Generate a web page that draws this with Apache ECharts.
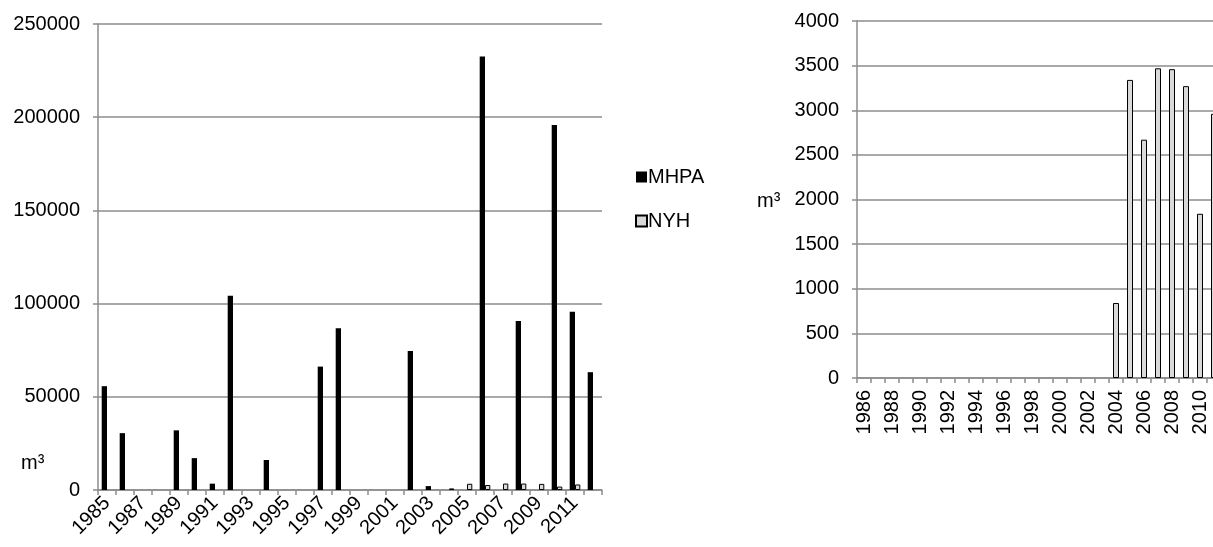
<!DOCTYPE html>
<html>
<head>
<meta charset="utf-8">
<script src="https://cdn.jsdelivr.net/npm/echarts@6/dist/echarts.min.js"></script>
<style>
html,body{margin:0;padding:0;background:#fff;}
#c{width:1213px;height:547px;}
</style>
</head>
<body>
<div id="c"></div>
<script>
const years = ['1985','1986','1987','1988','1989','1990','1991','1992','1993','1994','1995','1996','1997','1998','1999','2000','2001','2002','2003','2004','2005','2006','2007','2008','2009','2010','2011','2012'];
const mhpa = [55700,30500,null,null,32000,17100,3400,104200,null,16100,null,null,66200,86800,null,null,null,74600,2100,null,null,232600,null,90700,null,195800,95600,63200];
const nyh = [null,null,null,null,null,null,null,null,null,null,null,null,null,null,null,null,null,null,null,840,3340,2670,3470,3460,3270,1840,2960,null];
const rightYears = years.slice(1);
const rightNyh = nyh.slice(1);
const leftTicks = [0,50000,100000,150000,200000,250000];
const rightTicks = [0,500,1000,1500,2000,2500,3000,3500,4000];

const FONT = 'Liberation Sans, Arial, sans-serif';
const GRAY = '#8c8c8c';
const chart = echarts.init(document.getElementById('c'));

function yAxisCfg(gi, max, interval) {
  return {
    type: 'value', gridIndex: gi, min: 0, max: max, interval: interval,
    axisLine: {show: true, lineStyle: {color: GRAY, width: 1.5}},
    axisTick: {show: true, length: 5, lineStyle: {color: GRAY, width: 1.5}},
    splitLine: {show: true, lineStyle: {color: GRAY, width: 1.5}},
    axisLabel: {color: '#000', fontFamily: FONT, fontSize: 20, margin: 18, formatter: v => String(v)}
  };
}

chart.setOption({
  animation: false,
  backgroundColor: '#fff',
  textStyle: {fontFamily: FONT},
  title: [
    {text: 'm³', left: 16, top: 448, textStyle: {fontFamily: FONT, fontSize: 20, fontWeight: 'normal', color: '#000'}},
    {text: 'm³', left: 752, top: 186, textStyle: {fontFamily: FONT, fontSize: 20, fontWeight: 'normal', color: '#000'}}
  ],
  legend: {
    orient: 'vertical', left: 630, top: 162, itemWidth: 11, itemHeight: 11, itemGap: 24,
    icon: 'rect',
    data: ['MHPA', 'NYH'],
    textStyle: {fontFamily: FONT, fontSize: 20, color: '#000', padding: [0,0,0,-4], lineHeight: 20}
  },
  grid: [
    {left: 98, top: 24, width: 504, height: 466, outerBoundsMode: 'none', containLabel: false},
    {left: 857, top: 21, width: 378, height: 357, outerBoundsMode: 'none', containLabel: false}
  ],
  xAxis: [
    {
      type: 'category', gridIndex: 0, data: years,
      axisLine: {lineStyle: {color: GRAY, width: 1.5}},
      axisTick: {show: true, interval: 0, length: 5, lineStyle: {color: GRAY, width: 1.5}},
      axisLabel: {interval: 1, rotate: 45, color: '#000', fontFamily: FONT, fontSize: 20, margin: 10}
    },
    {
      type: 'category', gridIndex: 1, data: rightYears,
      axisLine: {lineStyle: {color: GRAY, width: 1.5}},
      axisTick: {show: true, interval: 0, length: 5, lineStyle: {color: GRAY, width: 1.5}},
      axisLabel: {interval: 1, rotate: 90, color: '#000', fontFamily: FONT, fontSize: 20, margin: 12}
    }
  ],
  yAxis: [
    yAxisCfg(0, leftTicks[leftTicks.length-1], leftTicks[1]-leftTicks[0]),
    yAxisCfg(1, rightTicks[rightTicks.length-1], rightTicks[1]-rightTicks[0])
  ],
  series: [
    {name: 'MHPA', type: 'bar', xAxisIndex: 0, yAxisIndex: 0, data: mhpa, barWidth: 5.3, barGap: '0%',
      itemStyle: {color: '#000'}},
    {name: 'NYH', type: 'bar', xAxisIndex: 0, yAxisIndex: 0, data: nyh, barWidth: 5.3, barGap: '0%',
      itemStyle: {color: '#d9d9d9', borderColor: '#000', borderWidth: 1}},
    {name: 'NYH', type: 'bar', xAxisIndex: 1, yAxisIndex: 1, data: rightNyh, barWidth: 6,
      itemStyle: {color: '#d9d9d9', borderColor: '#000', borderWidth: 1}}
  ]
});
</script>
</body>
</html>
